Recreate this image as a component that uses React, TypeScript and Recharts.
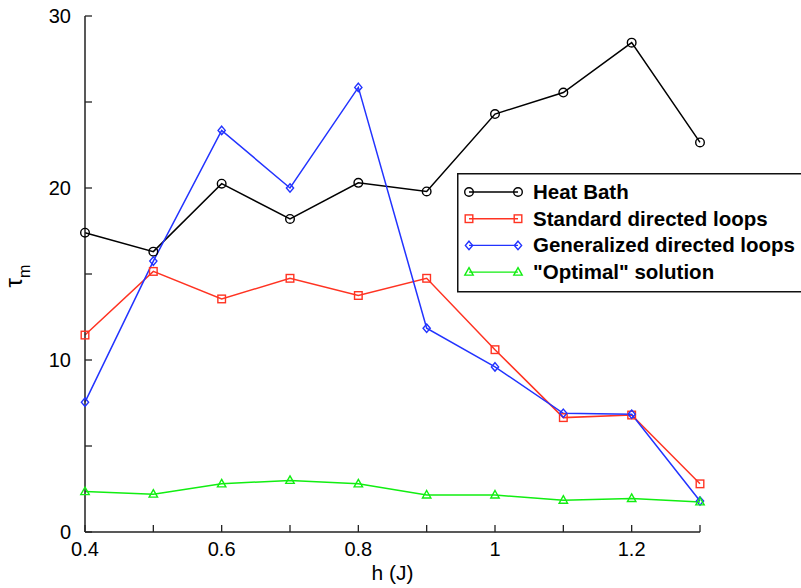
import { LineChart, Line, XAxis, YAxis, Legend, Label } from 'recharts';

const FONT = '"Liberation Sans", Arial, Helvetica, sans-serif';

// h (J) values
const H = [0.4, 0.5, 0.6, 0.7, 0.8, 0.9, 1.0, 1.1, 1.2, 1.3];

// autocorrelation times tau_m per algorithm
const HEAT_BATH = [17.4, 16.3, 20.25, 18.2, 20.3, 19.8, 24.3, 25.55, 28.45, 22.65];
const STANDARD = [11.45, 15.15, 13.55, 14.75, 13.75, 14.75, 10.6, 6.65, 6.8, 2.8];
const GENERALIZED = [7.55, 15.75, 23.35, 20.0, 25.85, 11.85, 9.6, 6.9, 6.85, 1.8];
const OPTIMAL = [2.35, 2.2, 2.8, 3.0, 2.8, 2.15, 2.15, 1.85, 1.95, 1.75];

const X_TICKS = [0.4, 0.5, 0.6, 0.7, 0.8, 0.9, 1.0, 1.1, 1.2, 1.3];
const X_TICK_LABELS = ['0.4', '', '0.6', '', '0.8', '', '1', '', '1.2', ''];
const Y_TICKS = [0, 5, 10, 15, 20, 25, 30];
const Y_TICK_LABELS = ['0', '', '10', '', '20', '', '30'];

type Shape = 'circle' | 'square' | 'diamond' | 'triangle';

const SERIES: { key: string; name: string; color: string; shape: Shape }[] = [
  { key: 'heat', name: 'Heat Bath', color: '#000000', shape: 'circle' },
  { key: 'standard', name: 'Standard directed loops', color: '#ff3322', shape: 'square' },
  { key: 'generalized', name: 'Generalized directed loops', color: '#2233ff', shape: 'diamond' },
  { key: 'optimal', name: '"Optimal" solution', color: '#11ee11', shape: 'triangle' },
];

const data = H.map((h, i) => ({
  h,
  heat: HEAT_BATH[i],
  standard: STANDARD[i],
  generalized: GENERALIZED[i],
  optimal: OPTIMAL[i],
}));

function Marker({ shape, x, y, color }: { shape: Shape; x: number; y: number; color: string }) {
  const common = { fill: 'none', stroke: color, strokeWidth: 1.4 };
  if (shape === 'circle') return <circle cx={x} cy={y} r={4.3} {...common} />;
  if (shape === 'square') return <rect x={x - 3.8} y={y - 3.8} width={7.6} height={7.6} {...common} />;
  if (shape === 'diamond')
    return <polygon points={`${x},${y - 4.2} ${x + 3.6},${y} ${x},${y + 4.2} ${x - 3.6},${y}`} {...common} />;
  return <polygon points={`${x},${y - 4.5} ${x + 4.2},${y + 3} ${x - 4.2},${y + 3}`} {...common} />;
}

function LegendBox() {
  return (
    <svg width={400} height={120} style={{ display: 'block' }}>
      <rect x={0.75} y={0.75} width={398} height={118} fill="#fff" stroke="#111" strokeWidth={1.5} />
      {SERIES.map((s, i) => {
        const y = 19 + i * 26.7;
        return (
          <g key={s.key}>
            <line x1={12} x2={61} y1={y} y2={y} stroke={s.color} strokeWidth={1.4} />
            <Marker shape={s.shape} x={12} y={y} color={s.color} />
            <Marker shape={s.shape} x={61} y={y} color={s.color} />
            <text x={76} y={y + 7} fontSize={20.5} fontWeight="bold" fontFamily={FONT} fill="#000">
              {s.name}
            </text>
          </g>
        );
      })}
    </svg>
  );
}

const axisLine = { stroke: '#222', strokeWidth: 1.5 };
const tickLine = { stroke: '#222', strokeWidth: 1.3 };

export default function App() {
  return (
    <div style={{ position: 'absolute', left: 0, top: 0, width: 801, height: 588, overflow: 'hidden', background: '#fff' }}>
      <LineChart
        width={801}
        height={588}
        data={data}
        margin={{ top: 16, right: 101, bottom: 16, left: 25 }}
        style={{ fontFamily: FONT }}
      >
        <XAxis
          dataKey="h"
          type="number"
          domain={[0.4, 1.3]}
          ticks={X_TICKS}
          interval={0}
          height={40}
          axisLine={axisLine}
          tickLine={tickLine}
          tickSize={-7}
          tickMargin={17}
          tick={{ fontSize: 20, fill: '#000', fontFamily: FONT }}
          tickFormatter={(_v: number, i: number) => X_TICK_LABELS[i]}
        >
          <Label value="h (J)" position="insideBottom" offset={-8} style={{ fontSize: 21, fill: '#000', fontFamily: FONT }} />
        </XAxis>
        <XAxis
          xAxisId="top"
          dataKey="h"
          type="number"
          orientation="top"
          domain={[0.4, 1.3]}
          ticks={X_TICKS}
          interval={0}
          height={0}
          axisLine={axisLine}
          tickLine={tickLine}
          tickSize={-7}
          tick={false}
        />
        <YAxis
          type="number"
          domain={[0, 30]}
          ticks={Y_TICKS}
          interval={0}
          width={60}
          axisLine={axisLine}
          tickLine={tickLine}
          tickSize={-7}
          tickMargin={21}
          tick={{ fontSize: 20, fill: '#000', fontFamily: FONT }}
          tickFormatter={(_v: number, i: number) => Y_TICK_LABELS[i]}
        >
          <Label
            content={() => (
              <text transform="rotate(-90, 22, 276)" x={22} y={276} textAnchor="middle" fontFamily={FONT} fill="#000">
                <tspan fontSize={24}>τ</tspan>
                <tspan fontSize={16} dy={8}>m</tspan>
              </text>
            )}
          />
        </YAxis>
        <YAxis
          yAxisId="right"
          orientation="right"
          type="number"
          domain={[0, 30]}
          ticks={Y_TICKS}
          interval={0}
          width={0}
          axisLine={axisLine}
          tickLine={tickLine}
          tickSize={-7}
          tick={false}
        />
        {SERIES.map((s) => (
          <Line
            key={s.key}
            dataKey={s.key}
            name={s.name}
            type="linear"
            stroke={s.color}
            strokeWidth={1.5}
            isAnimationActive={false}
            dot={(p: any) => <Marker key={`${s.key}-${p.index}`} shape={s.shape} x={p.cx} y={p.cy} color={s.color} />}
            activeDot={false}
          />
        ))}
        <Legend
          layout="horizontal"
          verticalAlign="middle"
          align="center"
          wrapperStyle={{ left: 457, top: 173, width: 400, height: 120 }}
          content={() => <LegendBox />}
        />
      </LineChart>
    </div>
  );
}
